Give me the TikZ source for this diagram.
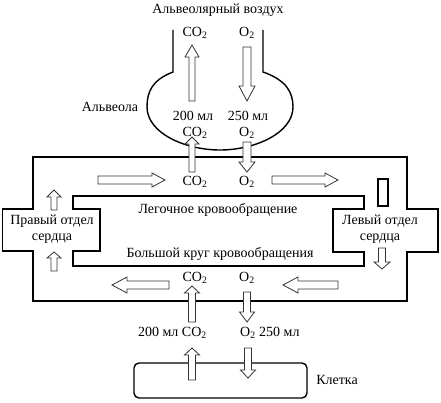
\documentclass[tikz,border=0pt]{standalone}
\usepackage{fontspec}
\setmainfont{Liberation Serif}
\tikzset{
  wall/.style={draw=black, line width=1.6pt, line join=miter},
  blk/.style={draw=black!80, line width=0.8pt, fill=white, line join=miter},
  lbl/.style={font=\fontsize{14}{16}\selectfont, inner sep=1pt},
}
% hollow block arrow: tail, angle, length, head length, half shaft, half head
\newcommand{\blkarrow}[6]{%
  \begin{scope}[shift={#1}, rotate=#2]
    \draw[blk] (0,-#5) -- ({#3-#4},-#5) -- ({#3-#4},-#6) -- (#3,0)
      -- ({#3-#4},#6) -- ({#3-#4},#5) -- (0,#5) -- cycle;
  \end{scope}}
\begin{document}
\begin{tikzpicture}[x=1pt, y=-1pt]
  \useasboundingbox (0,0) rectangle (441,403);
  % Alveola
  \draw[wall, line width=1.4pt] (173,30) -- (173,72) .. controls (152,80) and (147,92) .. (147,107)
    .. controls (147,133) and (185,150) .. (220,150)
    .. controls (255,150) and (293,133) .. (293,107)
    .. controls (293,92) and (286,80) .. (263,72) -- (263,30);
  % Outer and inner walls of the circulation
  \draw[wall] (33,157) -- (407,157) -- (407,209) -- (438,209) -- (438,252) -- (407,252)
    -- (407,301) -- (33,301) -- (33,251) -- (2.5,251) -- (2.5,209) -- (33,209) -- cycle;
  \draw[wall] (73,196) -- (364,196) -- (364,209) -- (333,209) -- (333,252) -- (364,252)
    -- (364,266) -- (73,266) -- (73,251) -- (100,251) -- (100,209) -- (73,209) -- cycle;
  % Cell
  \node[draw, line width=1.4pt, rounded corners=5pt, minimum width=173pt, minimum height=35pt,
    inner sep=0pt] (cell) at (220.5,380.5) {};
  % Gas flows
  \foreach \tx/\ty/\ang/\len/\hl/\sw/\hw in {
    192/101/90/56/12/3/7,
    247/47/-90/54/15/4/8,
    192/172/90/35/7/3/7,
    247/142/-90/30/10/4/8,
    98/180/0/67/13/4/7,
    272/180/0/66/13/4/7,
    169/285/180/57/15/4/8,
    338/285/180/55/15/4/8,
    192/322/90/36/7/3.5/7.5,
    247/292/-90/30/10/3.5/7.5,
    192/380/90/32/7/3.5/7.5,
    248/348/-90/30/8/3.5/7.5,
    54/210/90/20/7/3/7,
    54/271/90/19/6/3/7,
    382/248/-90/21/7/3.5/8%
  }{
    \blkarrow{(\tx,\ty)}{\ang}{\len}{\hl}{\sw}{\hw}
  }
  \draw[wall, line width=1.2pt] (378,179) rectangle (388,206);
  % Labels
  \node[lbl] (air) at (218,10) {Альвеолярный воздух};
  \node[lbl] (alveola) at (110,107) {Альвеола};
  \node[lbl] (co2air) at (195,33) {CO\textsubscript{2}};
  \node[lbl] (o2air) at (247,33) {O\textsubscript{2}};
  \node[lbl] (mlco2) at (193,116) {200 мл};
  \node[lbl] (mlo2) at (248,116) {250 мл};
  \node[lbl] (co2alv) at (195,133) {CO\textsubscript{2}};
  \node[lbl] (o2alv) at (247,133) {O\textsubscript{2}};
  \node[lbl] (co2lung) at (195,182) {CO\textsubscript{2}};
  \node[lbl] (o2lung) at (247,182) {O\textsubscript{2}};
  \node[lbl] (lung) at (218,210) {Легочное кровообращение};
  \node[lbl] (sys) at (220,254) {Большой круг кровообращения};
  \node[lbl, align=center] (rheart) at (52,229) {Правый отдел\\сердца};
  \node[lbl, align=center] (lheart) at (380,229) {Левый отдел\\сердца};
  \node[lbl] (co2sys) at (195,278) {CO\textsubscript{2}};
  \node[lbl] (o2sys) at (247,278) {O\textsubscript{2}};
  \node[lbl, anchor=east] (co2cell) at (208,333) {200 мл CO\textsubscript{2}};
  \node[lbl, anchor=west] (o2cell) at (239,333) {O\textsubscript{2} 250 мл};
  \node[lbl] (celllbl) at (337,380) {Клетка};
\end{tikzpicture}
\end{document}
